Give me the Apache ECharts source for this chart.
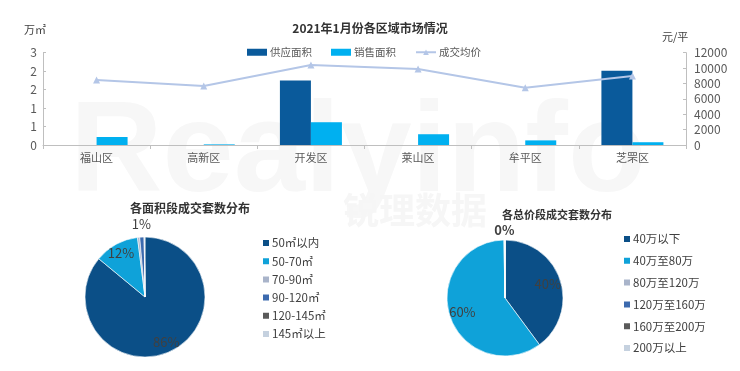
<!DOCTYPE html>
<html>
<head>
<meta charset="utf-8">
<script src="https://cdn.jsdelivr.net/npm/echarts@6/dist/echarts.min.js"></script>
<style>
html,body{margin:0;padding:0;background:#fff;}
#main{width:740px;height:371px;}
</style>
</head>
<body>
<div id="main"></div>
<script>
// ---- data ----
var districts = ['福山区', '高新区', '开发区', '莱山区', '牟平区', '芝罘区'];
var supplyArea = [0, 0, 2.10, 0, 0, 2.41];
var salesArea = [0.26, 0.02, 0.74, 0.35, 0.15, 0.09];
var avgPrice = [8450, 7670, 10400, 9880, 7450, 8970];

var areaSegments = ['50㎡以内', '50-70㎡', '70-90㎡', '90-120㎡', '120-145㎡', '145㎡以上'];
var areaShares = [86, 12, 0.6, 1.2, 0, 0.2];

var priceSegments = ['40万以下', '40万至80万', '80万至120万', '120万至160万', '160万至200万', '200万以上'];
var priceShares = [40, 60, 0.3, 0, 0, 0];

var barColors = ['#0A5A9B', '#00B0F0', '#B4C6E7'];
var pieColors = ['#0B4F87', '#0FA2D9', '#A9B4CA', '#3C6AAE', '#5A5A5A', '#C5D1DF'];

var FONT = '"Microsoft YaHei","Noto Sans CJK SC","Noto Sans",sans-serif';

function pieLabelFmt(p) { return Math.round(p.percent) + '%'; }

function buildPieData(names, vals) {
  return names.map(function (n, i) { return { name: n, value: vals[i] }; });
}
function buildLabelData(names, vals, wantBig, bold) {
  return names.map(function (n, i) {
    var big = vals[i] >= 5;
    return {
      name: n, value: vals[i],
      label: { show: big === wantBig, fontWeight: bold ? 'bold' : 'normal' }
    };
  });
}
function labelSeries(center, radius, names, vals, wantBig, bold) {
  return {
    type: 'pie', center: center, radius: radius, startAngle: 90, clockwise: true,
    data: buildLabelData(names, vals, wantBig, bold), avoidLabelOverlap: false,
    itemStyle: { color: 'rgba(0,0,0,0)', borderWidth: 0 }, legendHoverLink: false, silent: true,
    labelLine: { show: false },
    label: { position: 'inside', formatter: pieLabelFmt, fontSize: 13, color: '#404040', fontFamily: FONT }
  };
}

var chart = echarts.init(document.getElementById('main'), null, { renderer: 'canvas' });

var option = {
  backgroundColor: '#ffffff',
  animation: false,
  textStyle: { fontFamily: FONT },
  color: pieColors,
  graphic: [
    { type: 'text', left: 70, top: 92, z: -10, silent: true,
      style: { text: 'Realyinfo', fill: '#f7f7f7', font: 'bold 128px "Liberation Sans",sans-serif' } },
    { type: 'text', left: 343, top: 192, z: -10, silent: true,
      style: { text: '锐理数据', fill: '#f6f6f6', font: 'bold 36px "Noto Sans CJK SC",sans-serif' } },
    { type: 'text', left: 24, top: 24, style: { text: '万㎡', fill: '#404040', font: '11px ' + FONT } },
    { type: 'text', left: 662, top: 31, style: { text: '元/平', fill: '#404040', font: '11px ' + FONT } }
  ],
  title: [
    { text: '2021年1月份各区域市场情况', left: 'center', top: 17,
      textStyle: { fontSize: 12, fontWeight: 'bold', color: '#333333', fontFamily: FONT } },
    { text: '各面积段成交套数分布', left: 185, top: 197, textAlign: 'center',
      textStyle: { fontSize: 12, fontWeight: 'bold', color: '#333333', fontFamily: FONT } },
    { text: '各总价段成交套数分布', left: 552, top: 204, textAlign: 'center',
      textStyle: { fontSize: 11, fontWeight: 'bold', color: '#333333', fontFamily: FONT } }
  ],
  legend: [
    { data: [
        { name: '供应面积', icon: 'rect' },
        { name: '销售面积', icon: 'rect' },
        { name: '成交均价' }
      ],
      left: 242, top: 42, itemWidth: 20, itemHeight: 7, itemGap: 19,
      textStyle: { fontSize: 10.5, color: '#595959', fontFamily: FONT, padding: [0, 0, 0, -2] } },
    { data: areaSegments, orient: 'vertical', left: 256, top: 231, icon: 'rect',
      itemWidth: 8, itemHeight: 8, itemGap: 4.2,
      textStyle: { fontSize: 11.5, color: '#404040', lineHeight: 14, fontFamily: FONT, padding: [0, 0, 0, -3] } },
    { data: priceSegments, orient: 'vertical', left: 617, top: 227, icon: 'rect',
      itemWidth: 8, itemHeight: 8, itemGap: 7.8,
      textStyle: { fontSize: 11.5, color: '#404040', lineHeight: 14, fontFamily: FONT, padding: [0, 0, 0, -3] } }
  ],
  grid: { left: 43, right: 54, top: 52.7, bottom: 226, containLabel: false },
  xAxis: {
    type: 'category', data: districts,
    axisLine: { lineStyle: { color: '#BFBFBF' } },
    axisTick: { show: true, length: 4, lineStyle: { color: '#BFBFBF' } },
    axisLabel: { fontSize: 11, color: '#595959', margin: 7, fontFamily: FONT }
  },
  yAxis: [
    { type: 'value', min: 0, max: 3, interval: 0.6,
      axisLine: { show: true, lineStyle: { color: '#BFBFBF' } },
      axisTick: { show: true, inside: true, length: 3, lineStyle: { color: '#BFBFBF' } },
      splitLine: { show: false },
      axisLabel: { fontSize: 12, color: '#595959', margin: 6, fontFamily: FONT,
        formatter: function (v) { return String(Math.round(v)); } } },
    { type: 'value', min: 0, max: 12000, interval: 2000,
      axisLine: { show: true, lineStyle: { color: '#BFBFBF' } },
      axisTick: { show: true, inside: true, length: 3, lineStyle: { color: '#BFBFBF' } },
      splitLine: { show: false },
      axisLabel: { fontSize: 12, color: '#595959', margin: 8, fontFamily: FONT,
        formatter: function (v) { return String(v); } } }
  ],
  series: [
    { name: '供应面积', type: 'bar', data: supplyArea, barWidth: 31, barGap: '0%',
      itemStyle: { color: barColors[0] } },
    { name: '销售面积', type: 'bar', data: salesArea, barWidth: 31, barGap: '0%',
      itemStyle: { color: barColors[1] } },
    { name: '成交均价', type: 'line', yAxisIndex: 1, data: avgPrice,
      symbol: 'triangle', symbolSize: 7,
      lineStyle: { color: barColors[2], width: 2 },
      itemStyle: { color: barColors[2] } },

    { type: 'pie', center: [145, 297], radius: [0, 60], startAngle: 90, clockwise: true,
      data: buildPieData(areaSegments, areaShares), color: pieColors,
      itemStyle: { borderColor: '#ffffff', borderWidth: 0.6 },
      label: { show: false }, labelLine: { show: false }, silent: true },
    labelSeries([145, 297], [34, 60], areaSegments, areaShares, true, false),
    labelSeries([145, 297], [62, 78], areaSegments, areaShares, false, false),

    { type: 'pie', center: [505, 298], radius: [0, 58], startAngle: 90, clockwise: true,
      data: buildPieData(priceSegments, priceShares), color: pieColors,
      itemStyle: { borderColor: '#ffffff', borderWidth: 0.6 },
      label: { show: false }, labelLine: { show: false }, silent: true },
    labelSeries([505, 298], [26, 58], priceSegments, priceShares, true, false),
    labelSeries([505, 298], [58, 72], priceSegments, priceShares, false, true)
  ]
};
chart.setOption(option);
</script>
</body>
</html>
